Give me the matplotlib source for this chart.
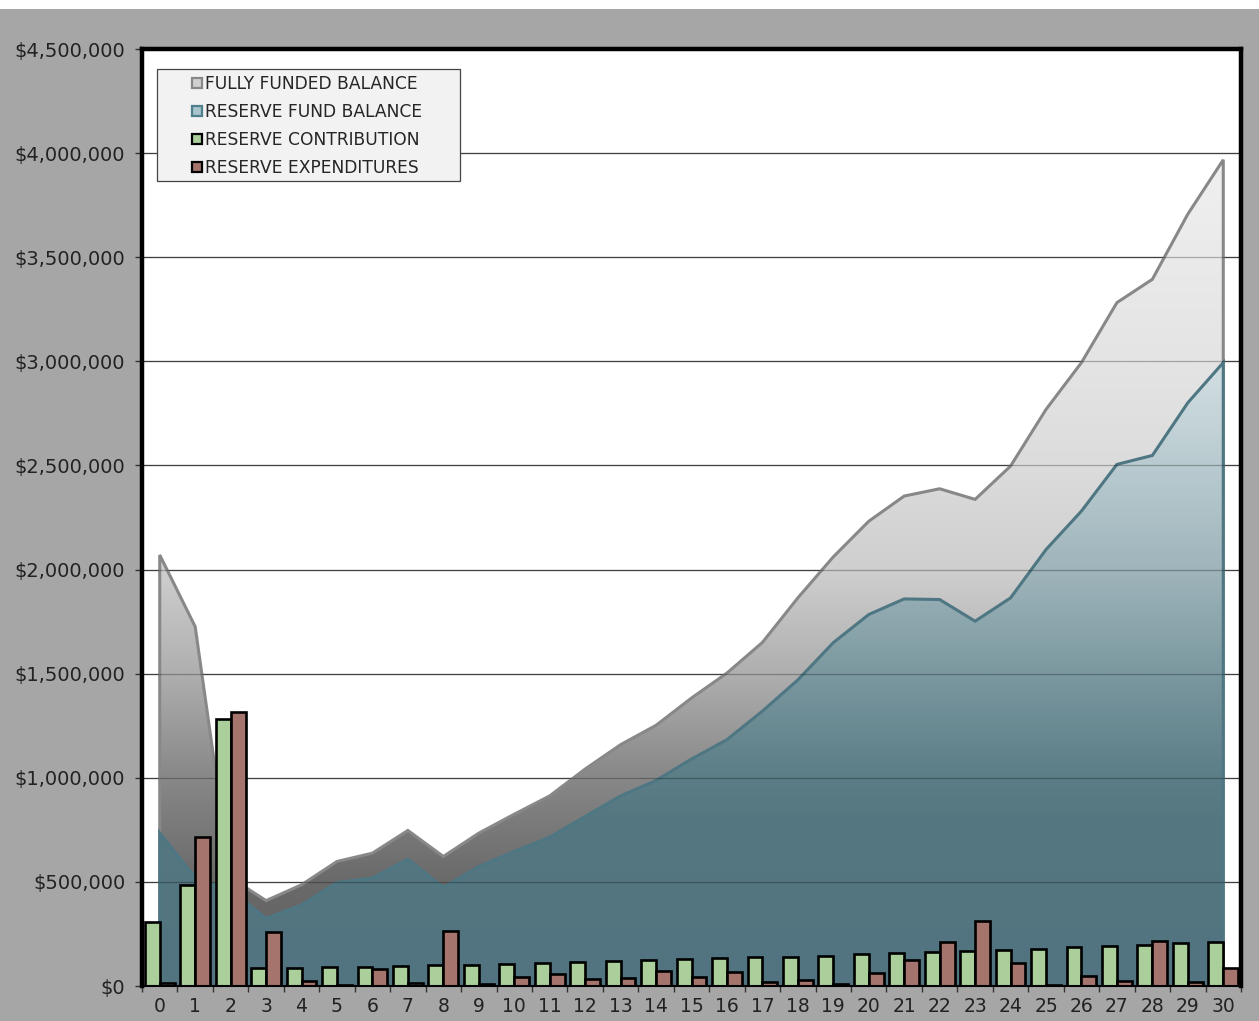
import numpy as np
import matplotlib
matplotlib.use("Agg")
import matplotlib.pyplot as plt
from matplotlib.colors import LinearSegmentedColormap, Normalize
from matplotlib.lines import Line2D
from matplotlib.patches import Rectangle
from matplotlib.ticker import FuncFormatter, MultipleLocator

# values (dollars)
years = np.arange(0, 31)
fully_funded = [2070000, 1726000, 520000, 410000, 486000, 598000, 638000, 747000,
                622000, 734000, 825000, 913000, 1042000, 1159000, 1252000, 1383000,
                1503000, 1650000, 1864000, 2061000, 2232000, 2353000, 2388000,
                2337000, 2497000, 2769000, 2994000, 3282000, 3394000, 3707000, 3968000]
reserve_balance = [735000, 520000, 460000, 325000, 389000, 497000, 518000, 609000,
                   473000, 574000, 646000, 715000, 814000, 913000, 987000, 1090000,
                   1183000, 1320000, 1470000, 1649000, 1784000, 1859000, 1856000,
                   1752000, 1864000, 2096000, 2281000, 2505000, 2548000, 2801000, 2994000]
contribution = [309000, 486000, 1282000, 85000, 88000, 91000, 93000, 96000, 99000,
                102000, 107000, 110000, 115000, 120000, 123000, 128000, 133000,
                138000, 141000, 146000, 152000, 157000, 163000, 167000, 173000,
                179000, 186000, 191000, 199000, 205000, 213000]
expenditures = [16000, 716000, 1314000, 260000, 24000, 4000, 82000, 13000, 263000,
                12000, 45000, 59000, 32000, 40000, 71000, 45000, 66000, 19000, 27000,
                12000, 62000, 124000, 212000, 313000, 109000, 3000, 50000, 26000,
                216000, 21000, 88000]
labels = ["FULLY FUNDED BALANCE", "RESERVE FUND BALANCE",
          "RESERVE CONTRIBUTION", "RESERVE EXPENDITURES"]

ff = np.array(fully_funded, dtype=float)
rb = np.array(reserve_balance, dtype=float)
ymax = 4500000

fig = plt.figure(figsize=(12.59, 10.21), dpi=100, facecolor="#a6a6a6")
fig.add_artist(Rectangle((0, 1 - 9 / 1021), 1, 9 / 1021, transform=fig.transFigure,
                         facecolor="white", edgecolor="none", zorder=0))
ax = fig.add_axes([142 / 1259, 1 - 986 / 1021, 1099 / 1259, 937 / 1021])
ax.set_facecolor("white")

# base gridlines
ax.set_axisbelow(True)
ax.yaxis.set_major_locator(MultipleLocator(500000))
ax.grid(axis="y", color="#5a5a5a", linewidth=0.9, zorder=0)

# gradient fills
grey_cmap = LinearSegmentedColormap.from_list("g", [
    (0.0, "#5e5e5e"), (0.5 / 4.5, "#6a6a6a"), (1.0 / 4.5, "#888888"),
    (1.5 / 4.5, "#afafaf"), (2.0 / 4.5, "#cfcfcf"), (2.5 / 4.5, "#dcdcdc"),
    (3.0 / 4.5, "#e4e4e4"), (4.0 / 4.5, "#f0f0f0"), (1.0, "#f4f4f4")])
teal_cmap = LinearSegmentedColormap.from_list("t", [
    (0.0, "#517480"), (0.8 / 4.5, "#547781"), (1.0 / 4.5, "#5b7e87"),
    (1.5 / 4.5, "#7b98a0"), (2.0 / 4.5, "#9fb5bb"), (2.5 / 4.5, "#b9cbd0"),
    (3.0 / 4.5, "#d3dfe2"), (1.0, "#e6eef0")])
grad = np.linspace(0, ymax, 512).reshape(-1, 1)

grey_poly = ax.fill_between(years, rb, ff, facecolor="none", edgecolor="none")
im1 = ax.imshow(grad, extent=[-0.5, 30.5, 0, ymax], origin="lower", aspect="auto",
                cmap=grey_cmap, norm=Normalize(0, ymax), zorder=1)
im1.set_clip_path(grey_poly.get_paths()[0], transform=ax.transData)

x_out = np.concatenate(([years[0]], years, [years[-1]]))
ax.plot(x_out, np.concatenate(([0], ff, [0])), color="#888888", lw=2.2,
        zorder=1.2, solid_joinstyle="miter")

teal_poly = ax.fill_between(years, 0, rb, facecolor="none", edgecolor="none")
im2 = ax.imshow(grad, extent=[-0.5, 30.5, 0, ymax], origin="lower", aspect="auto",
                cmap=teal_cmap, norm=Normalize(0, ymax), zorder=1.3)
im2.set_clip_path(teal_poly.get_paths()[0], transform=ax.transData)
ax.plot(x_out, np.concatenate(([0], rb, [0])), color="#4e7783", lw=2.2,
        zorder=1.4, solid_joinstyle="miter")

# faint gridlines showing through the areas
ax.hlines(np.arange(500000, ymax, 500000), -0.5, 30.5, color="black", alpha=0.28,
          linewidth=0.9, zorder=1.5)

# bars
w = 0.42
ax.bar(years - w / 2, contribution, width=w, color="#aacf9b", edgecolor="black",
       linewidth=1.9, zorder=2)
ax.bar(years + w / 2, expenditures, width=w, color="#a5756d", edgecolor="black",
       linewidth=1.9, zorder=2)

ax.set_xlim(-0.5, 30.5)
ax.set_ylim(0, ymax)

# axes styling
for s in ["left", "top", "right"]:
    ax.spines[s].set_linewidth(3.2)
    ax.spines[s].set_color("black")
ax.spines["bottom"].set_linewidth(1.5)
ax.spines["bottom"].set_color("black")

ax.yaxis.set_major_formatter(FuncFormatter(lambda v, p: "${:,.0f}".format(v)))
ax.tick_params(axis="y", length=5, width=1, color="#333333", pad=7,
               labelsize=14, labelcolor="#222222")
ax.set_xticks(years)
ax.set_xticklabels([str(y) for y in years])
ax.set_xticks(np.arange(-0.5, 31, 1), minor=True)
ax.tick_params(axis="x", which="major", length=0, pad=8, labelsize=13.5,
               labelcolor="#222222")
ax.tick_params(axis="x", which="minor", length=4, width=1, color="#333333")

# legend
ax.add_patch(Rectangle((15 / 1099, (986 - 181) / 937), 303 / 1099, 112 / 937,
                       transform=ax.transAxes, facecolor="#f2f2f2",
                       edgecolor="#444444", lw=0.9, zorder=5))
handles = [
    Line2D([], [], marker="s", ls="none", markersize=6.5, markerfacecolor="#d0d0d0",
           markeredgecolor="#888888", markeredgewidth=1.6),
    Line2D([], [], marker="s", ls="none", markersize=6.5, markerfacecolor="#a8c4cc",
           markeredgecolor="#4e7f8c", markeredgewidth=1.6),
    Line2D([], [], marker="s", ls="none", markersize=6.5, markerfacecolor="#aacf9b",
           markeredgecolor="black", markeredgewidth=1.6),
    Line2D([], [], marker="s", ls="none", markersize=6.5, markerfacecolor="#a5756d",
           markeredgecolor="black", markeredgewidth=1.6),
]
leg = ax.legend(handles, labels, loc="upper left",
                bbox_to_anchor=(50 / 1099, (986 - 75) / 937), frameon=False,
                borderpad=0, borderaxespad=0, handlelength=0.55, handletextpad=0.2,
                labelspacing=0.58, fontsize=12.3)
for t in leg.get_texts():
    t.set_color("#262626")
leg.set_zorder(6)

fig.savefig("out.png", dpi=100, facecolor=fig.get_facecolor())
